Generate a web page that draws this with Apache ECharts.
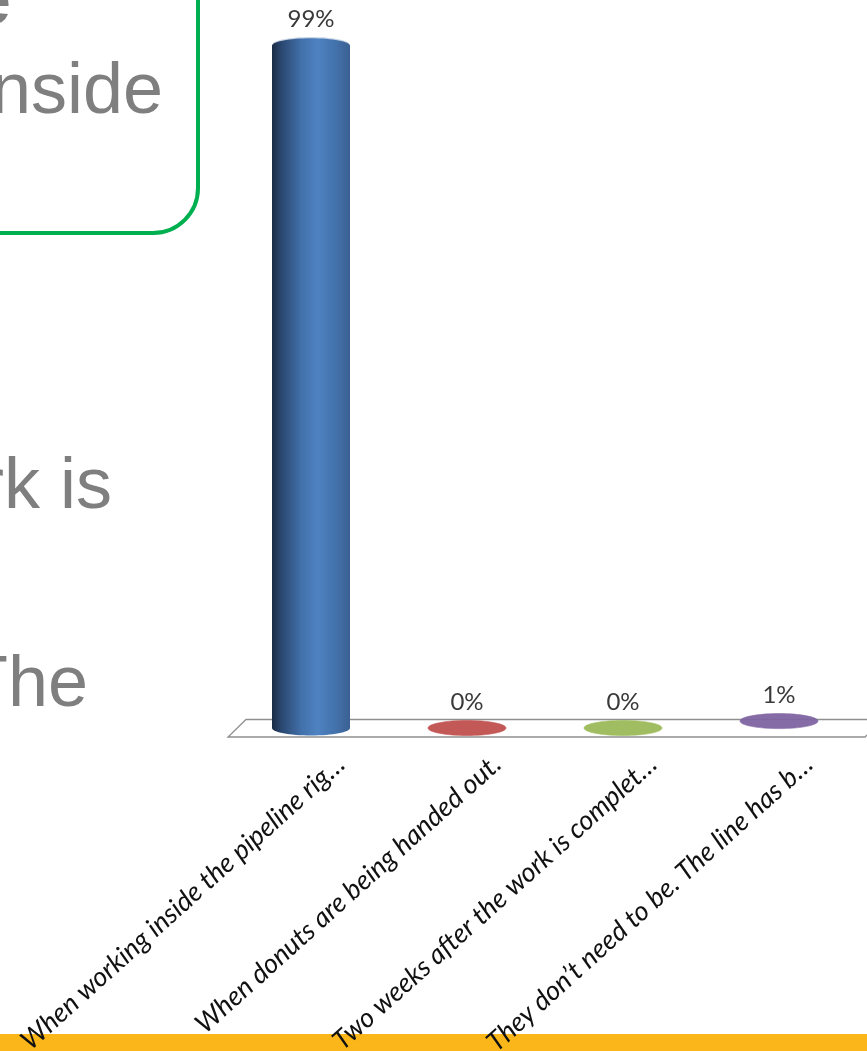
<!DOCTYPE html>
<html>
<head>
<meta charset="utf-8">
<script src="https://cdn.jsdelivr.net/npm/echarts@6/dist/echarts.min.js"></script>
<style>
  html, body { margin: 0; padding: 0; background: #ffffff; }
  #chart { width: 867px; height: 1051px; }
</style>
</head>
<body>
<div id="chart"></div>
<script>
// Poll answers and the share of responses for each one
const categories = [
  'When working inside the pipeline rig…',
  'When donuts are being handed out.',
  'Two weeks after the work is complet…',
  'They don’t need to be. The line has b…'
];
const percentValues = [99, 0, 0, 1];
const palette = ['#4f81bd', '#c0504d', '#9bbb59', '#8064a2'];

const chart = echarts.init(document.getElementById('chart'));

const deg = Math.PI / 180;
const slideFont = '"Liberation Sans", Arial, sans-serif';
const chartFont = 'Lato, "Open Sans", sans-serif';
const slideGrey = '#7f7f7f';

// Shading across a cylinder body, dark on the left, highlight right of centre
function cylinderFill(base) {
  if (base !== palette[0]) return base;
  return new echarts.graphic.LinearGradient(0, 0, 1, 0, [
    { offset: 0, color: '#1b2c44' },
    { offset: 0.12, color: '#2a4770' },
    { offset: 0.38, color: '#4271ab' },
    { offset: 0.58, color: '#4e82c1' },
    { offset: 0.8, color: '#4473ad' },
    { offset: 1, color: '#3a6192' }
  ]);
}

function renderFloor(params, api) {
  const cs = params.coordSys;
  const baseY = api.coord([0, 0])[1];
  const left = cs.x, right = cs.x + cs.width;
  return {
    type: 'polygon',
    shape: {
      points: [
        [left + 13, baseY - 8.5],
        [right + 26, baseY - 8.5],
        [right + 8, baseY + 9],
        [left - 5, baseY + 9]
      ]
    },
    style: { fill: '#ffffff', stroke: '#8f8f8f', lineWidth: 1.3 }
  };
}

function renderCylinder(params, api) {
  const idx = api.value(0);
  const val = api.value(1);
  const base = api.coord([idx, 0]);
  const top = api.coord([idx, val]);
  const bandWidth = api.size([1, 0])[0];
  const rx = bandWidth * 0.25;
  const ry = 7.5;
  const cx = base[0];
  const color = palette[idx];
  const children = [];

  if (base[1] - top[1] > 2 * ry) {
    children.push({
      type: 'ellipse',
      shape: { cx: cx, cy: base[1], rx: rx, ry: ry },
      style: { fill: cylinderFill(color) }
    });
    children.push({
      type: 'rect',
      shape: { x: cx - rx, y: top[1], width: rx * 2, height: base[1] - top[1] },
      style: { fill: cylinderFill(color) }
    });
    // pale rim along the far edge of the cap
    children.push({
      type: 'ellipse',
      shape: { cx: cx, cy: top[1] - 1, rx: rx - 0.5, ry: ry },
      style: { fill: '#c9d6e6' }
    });
    children.push({
      type: 'ellipse',
      shape: { cx: cx, cy: top[1] + 0.3, rx: rx, ry: ry },
      style: { fill: cylinderFill(color) }
    });
  } else {
    children.push({
      type: 'ellipse',
      shape: { cx: cx, cy: top[1], rx: rx, ry: ry },
      style: { fill: color, stroke: color, lineWidth: 0.6, opacity: 0.95 }
    });
  }

  // value label above the cap
  children.push({
    type: 'text',
    x: cx,
    y: top[1] - 26,
    style: {
      text: val + '%',
      font: '24px ' + chartFont,
      fill: '#3a3a3a',
      align: 'center',
      verticalAlign: 'middle'
    }
  });

  // slanted category label under the floor
  children.push({
    type: 'text',
    x: cx + 30,
    y: base[1] + 32,
    rotation: 42 * deg,
    style: {
      text: categories[idx],
      font: 'italic 27px ' + chartFont,
      fill: '#111111',
      align: 'right',
      verticalAlign: 'middle'
    }
  });

  return { type: 'group', children: children };
}

chart.setOption({
  animation: false,
  backgroundColor: '#ffffff',
  grid: { left: 233, right: 10, top: 38.6, bottom: 323, containLabel: false },
  xAxis: {
    type: 'category',
    data: categories,
    boundaryGap: true,
    show: false
  },
  yAxis: { type: 'value', min: 0, max: 100, show: false },
  graphic: [
    // orange footer band of the slide
    { type: 'rect', z: 0, shape: { x: 0, y: 1034, width: 867, height: 17 }, style: { fill: '#fbb71a' } },
    // green callout box
    {
      type: 'rect', z: 1,
      shape: { x: -60, y: -120, width: 258, height: 353, r: 45 },
      style: { fill: 'none', stroke: '#00b050', lineWidth: 4 }
    },
    // slide body text running off the left edge
    { type: 'text', z: 1, x: 11, y: 4, style: { text: 'e', font: 'bold 72px ' + slideFont, fill: slideGrey, align: 'right', verticalAlign: 'middle' } },
    { type: 'text', z: 1, x: 163, y: 93, style: { text: 'nside', font: '72px ' + slideFont, fill: slideGrey, align: 'right', verticalAlign: 'middle' } },
    { type: 'text', z: 1, x: 112, y: 488, style: { text: 'rk is', font: '72px ' + slideFont, fill: slideGrey, align: 'right', verticalAlign: 'middle' } },
    { type: 'text', z: 1, x: 88, y: 686, style: { text: 'The', font: '72px ' + slideFont, fill: slideGrey, align: 'right', verticalAlign: 'middle' } }
  ],
  series: [
    {
      type: 'custom',
      name: 'floor',
      z: 1,
      silent: true,
      renderItem: renderFloor,
      data: [[0]]
    },
    {
      type: 'custom',
      name: 'responses',
      z: 3,
      renderItem: renderCylinder,
      encode: { x: 0, y: 1 },
      data: percentValues.map(function (v, i) { return [i, v]; })
    }
  ]
});
</script>
</body>
</html>
